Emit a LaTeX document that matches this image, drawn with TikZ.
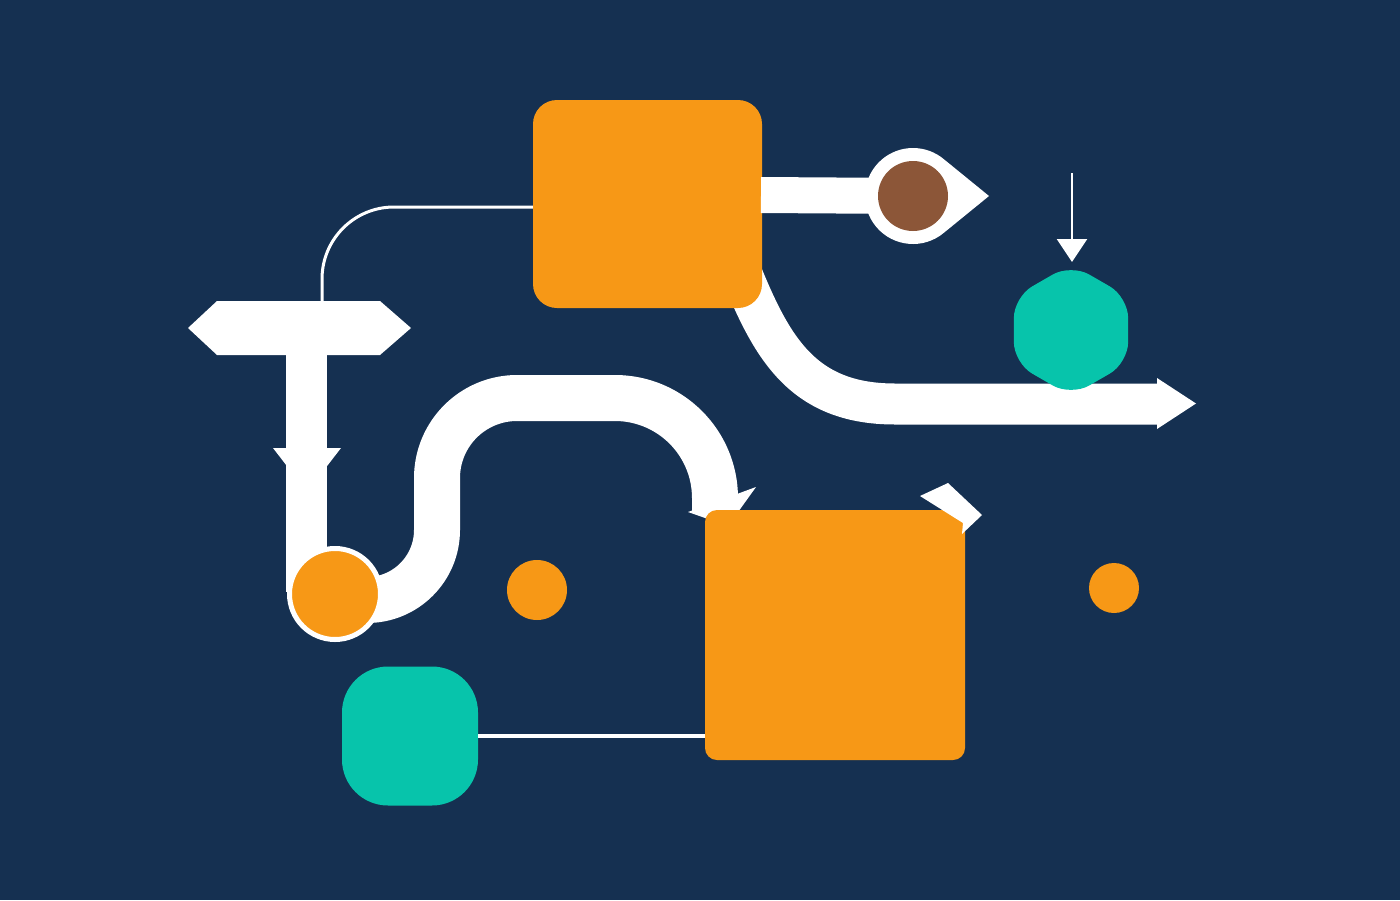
\documentclass[tikz,border=0pt]{standalone}
\usetikzlibrary{calc,arrows.meta}
\definecolor{bg}{RGB}{21,48,81}
\definecolor{org}{RGB}{247,152,22}
\definecolor{tealc}{RGB}{7,196,171}
\definecolor{brn}{RGB}{140,86,56}
\begin{document}
\begin{tikzpicture}[x=1pt,y=-1pt,line join=round,
  orangebox/.style={fill=org,draw=none,inner sep=0pt},
  dot/.style={circle,fill=org,draw=none,inner sep=0pt},
  thinwire/.style={draw=white,line width=3pt},
  band/.style={draw=white}]
\useasboundingbox (0,0) rectangle (1400,900);
\fill[bg] (0,0) rectangle (1400,900);

% named anchors
\coordinate (ttop) at (322,301);
\coordinate (pin) at (913,196);
\coordinate (hex) at (1071,330);
\coordinate (arrowtip) at (1196,403.5);

% big curved arrow behind the top square
\draw[band,line width=41pt] (737,262) .. controls (770,345) and (800,404) .. (895,404) -- (1160,404);
\fill[white] (1157,378) -- (arrowtip) -- (1157,429) -- cycle;

% top orange square
\node[orangebox,rounded corners=24pt,minimum width=229pt,minimum height=208pt] (sq1) at (647.5,204) {};

% thin wire from top square to T bar
\draw[thinwire,rounded corners=72pt] ($(sq1.west)+(0,3)$) -- (322,207) -- (ttop);

% bar with pin
\draw[band,line width=36pt] (761,195) -- (pin);
\fill[white] (989,196) -- ($(pin)+(50:48)$) arc[start angle=50,end angle=310,radius=48] -- cycle;
\node[circle,fill=brn,inner sep=0pt,minimum size=70pt] (brown) at (pin) {};

% small arrow into hexagon
\draw[white,line width=2.5pt,-{Triangle[width=30pt,length=23pt]}] (1072,173) -- (1072,262);

% teal hexagon
\fill[tealc,rounded corners=21pt] ($(hex)+(90:66)$) -- ($(hex)+(150:66)$) -- ($(hex)+(210:66)$)
  -- ($(hex)+(270:66)$) -- ($(hex)+(330:66)$) -- ($(hex)+(30:66)$) -- cycle;

% T bar
\fill[white] (188,328) -- (217,301) -- (380,301) -- (411,328) -- (380,355) -- (217,355) -- cycle;
\fill[white] (286,350) rectangle (327,592);
\fill[white] (273,448) -- (341,448) -- (307,492) -- cycle;

% S curve
\draw[band,line width=46pt] (333,600) -- (367,600)
  arc[start angle=90,end angle=0,radius=70] -- (437,478)
  arc[start angle=180,end angle=270,radius=80] -- (615,398)
  arc[start angle=270,end angle=360,radius=100] -- (715,512);
\fill[white] (688,512) -- (756,487) -- (728,526) -- cycle;

% orange circle with white ring
\node[dot,draw=white,line width=5pt,minimum size=91pt] (oc) at (335,594) {};

% lower orange square
\node[orangebox,rounded corners=12pt,minimum width=260pt,minimum height=250pt] (sq2) at (835,635) {};
\fill[white] (920,496) -- (948,483) -- (982,515) -- (962,534) -- (963,523) -- cycle;

% dots
\node[dot,minimum size=60pt] (d1) at (537,590) {};
\node[dot,minimum size=50pt] (d2) at (1114,588) {};

% teal rounded square and wire
\node[fill=tealc,draw=none,inner sep=0pt,rounded corners=46pt,minimum width=136pt,minimum height=139pt] (tq) at (410,736) {};
\draw[white,line width=3.5pt] (tq.east) -- (tq.east -| sq2.west);
\end{tikzpicture}
\end{document}
